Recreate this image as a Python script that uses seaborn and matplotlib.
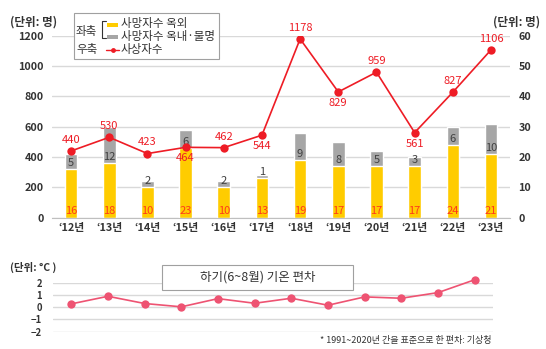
import numpy as np
import pandas as pd
import matplotlib
matplotlib.use("Agg")
import matplotlib.pyplot as plt
from matplotlib.patches import Rectangle
from matplotlib.lines import Line2D
import seaborn as sns

sns.set_style("white")
plt.rcParams['font.family'] = ['Noto Sans CJK KR', 'DejaVu Sans']

years = ["‘12년", "‘13년", "‘14년", "‘15년", "‘16년", "‘17년",
         "‘18년", "‘19년", "‘20년", "‘21년", "‘22년", "‘23년"]
deaths_outdoor = [16, 18, 10, 23, 10, 13, 19, 17, 17, 17, 24, 21]
deaths_indoor = [5, 12, 2, 6, 2, 1, 9, 8, 5, 3, 6, 10]
patients = [440, 530, 423, 464, 462, 544, 1178, 829, 959, 561, 827, 1106]
patient_label_below = [False, False, False, True, False, True, False, True, False, True, False, False]
temp_anomaly = [0.27, 0.89, 0.30, 0.03, 0.70, 0.32, 0.73, 0.16, 0.84, 0.73, 1.19, 2.24]
left_ticks = [0, 200, 400, 600, 800, 1000, 1200]
right_ticks = [0, 10, 20, 30, 40, 50, 60]
temp_ticks = [-2, -1, 0, 1, 2]

YELLOW = "#FFCC00"
GRAY = "#A6A6A6"
RED = "#EE1C25"
PINK = "#EE5372"
BARLAB = "#FF3A1A"
TXT = "#333333"
GRID = "#D9D9D9"

df = pd.DataFrame({
    "year": years,
    "pos": np.arange(len(years)),
    "outdoor": deaths_outdoor,
    "indoor": deaths_indoor,
    "patients": patients,
    "temp": temp_anomaly,
})
df["total"] = df["outdoor"] + df["indoor"]

fig = plt.figure(figsize=(5.46, 3.49), dpi=100)
ax = fig.add_axes([0.0952, 0.376, 0.839, 0.522])   # bars (right-axis scale)
ax2 = ax.twinx()                                     # line (left-axis scale)

sns.barplot(data=df, x="year", y="total", color=GRAY, width=0.33,
            saturation=1, ax=ax, order=years)
sns.barplot(data=df, x="year", y="outdoor", color=YELLOW, width=0.33,
            saturation=1, ax=ax, order=years)
ax.set_ylim(0, 60)
ax.set_xlim(-0.5, len(years) - 0.5)
ax.yaxis.tick_right()
ax.yaxis.set_label_position("right")
ax.set_yticks(right_ticks)
ax.set_xlabel("")
ax.set_ylabel("")
ax.grid(axis="y", color=GRID, linewidth=1)
ax.set_axisbelow(True)
for s in ["top", "left", "right"]:
    ax.spines[s].set_visible(False)
ax.spines["bottom"].set_color("#BFBFBF")
ax.tick_params(axis="y", length=0, pad=6, labelsize=7.8, labelcolor=TXT)
ax.tick_params(axis="x", length=0, pad=4, labelsize=7.8, labelcolor=TXT)
for lab in ax.get_yticklabels() + ax.get_xticklabels():
    lab.set_fontweight("bold")

for i, r in df.iterrows():
    ax.annotate(str(r["outdoor"]), (r["pos"], 0), xytext=(0, 1.5),
                textcoords="offset points", ha="center", va="bottom",
                fontsize=8, color=BARLAB)
    ax.annotate(str(r["indoor"]), (r["pos"], r["outdoor"]), xytext=(0, 1),
                textcoords="offset points", ha="center", va="bottom",
                fontsize=8, color="#404040")

sns.lineplot(data=df, x="pos", y="patients", color=RED, marker="o",
             markersize=6, markeredgewidth=0, linewidth=1.2, ax=ax2)
ax2.set_ylim(0, 1200)
ax2.yaxis.tick_left()
ax2.set_yticks(left_ticks)
ax2.set_xlim(-0.5, len(years) - 0.5)
ax2.set_xlabel("")
ax2.set_ylabel("")
for s in ["top", "left", "right", "bottom"]:
    ax2.spines[s].set_visible(False)
ax2.tick_params(axis="y", length=0, pad=6, labelsize=7.8, labelcolor=TXT)
for lab in ax2.get_yticklabels():
    lab.set_fontweight("bold")
for i, r in df.iterrows():
    below = patient_label_below[i]
    ax2.annotate(str(r["patients"]), (r["pos"], r["patients"]),
                 xytext=(0, -8 if below else 8), textcoords="offset points",
                 ha="center", va="center", fontsize=8, color=RED)

fig.text(10 / 546, 1 - 22 / 349, "(단위: 명)", fontsize=8.3, color=TXT,
         fontweight="bold", va="center", ha="left")
fig.text(540 / 546, 1 - 22 / 349, "(단위: 명)", fontsize=8.3, color=TXT,
         fontweight="bold", va="center", ha="right")

# legend box
fig.patches.append(Rectangle((74 / 546, 1 - 59 / 349), 145 / 546, 46 / 349,
                             transform=fig.transFigure, fill=True,
                             facecolor="white", edgecolor="#A0A0A0", lw=0.8,
                             zorder=5))
fig.text(76 / 546, 1 - 31 / 349, "좌축", fontsize=8.3, color=TXT,
         va="center", ha="left", zorder=6)
fig.text(76 / 546, 1 - 50 / 349, "우축", fontsize=8.3, color=TXT,
         va="center", ha="left", zorder=6)
fig.lines.append(Line2D([106 / 546, 102 / 546, 102 / 546, 106 / 546],
                        [1 - 21 / 349, 1 - 21 / 349, 1 - 38 / 349, 1 - 38 / 349],
                        transform=fig.transFigure, color=TXT, lw=0.8, zorder=6))
fig.patches.append(Rectangle((107 / 546, 1 - 26.5 / 349), 11 / 546, 4 / 349,
                             transform=fig.transFigure, facecolor=YELLOW,
                             edgecolor="none", zorder=6))
fig.patches.append(Rectangle((107 / 546, 1 - 38.5 / 349), 11 / 546, 4 / 349,
                             transform=fig.transFigure, facecolor=GRAY,
                             edgecolor="none", zorder=6))
fig.lines.append(Line2D([106 / 546, 119 / 546], [1 - 50 / 349, 1 - 50 / 349],
                        transform=fig.transFigure, color=RED, lw=1, zorder=6))
fig.lines.append(Line2D([112.5 / 546], [1 - 50 / 349], marker="o", markersize=3.5,
                        markeredgewidth=0, transform=fig.transFigure, color=RED,
                        zorder=7))
for yy, t in [(23.5, "사망자수 옥외"), (36.5, "사망자수 옥내·불명"), (50, "사상자수")]:
    fig.text(121 / 546, 1 - yy / 349, t, fontsize=8.3, color=TXT,
             va="center", ha="left", zorder=6)

# bottom chart
bx = fig.add_axes([0.097, 0.0496, 0.806, 0.1404])
sns.lineplot(data=df, x="pos", y="temp", color=PINK, marker="o",
             markersize=6, markeredgewidth=0, linewidth=1.2, ax=bx)
for ln in bx.get_lines():
    ln.set_clip_on(False)
bx.set_ylim(-2, 2)
bx.set_xlim(-0.5, len(years) - 0.5)
bx.set_yticks(temp_ticks)
bx.set_xticks([])
bx.set_xlabel("")
bx.set_ylabel("")
bx.grid(axis="y", color=GRID, linewidth=1)
bx.set_axisbelow(True)
for s in ["top", "left", "right", "bottom"]:
    bx.spines[s].set_visible(False)
bx.tick_params(axis="y", length=0, pad=8, labelsize=6.8, labelcolor=TXT)
for lab in bx.get_yticklabels():
    lab.set_fontweight("bold")

fig.text(10 / 546, 1 - 267 / 349, "(단위: °C )", fontsize=7.5, color=TXT,
         fontweight="bold", va="center", ha="left")
fig.patches.append(Rectangle((162 / 546, 1 - 290 / 349), 191 / 546, 25 / 349,
                             transform=fig.transFigure, facecolor="white",
                             edgecolor="#A0A0A0", lw=0.8, zorder=5))
fig.text(258 / 546, 1 - 277.5 / 349, "하기(6~8월) 기온 편차", fontsize=9,
         color=TXT, va="center", ha="center", zorder=6)
fig.text(491 / 546, 1 - 340 / 349, "* 1991~2020년 간을 표준으로 한 편차: 기상청",
         fontsize=6.5, color=TXT, va="center", ha="right")

fig.savefig("out.png", dpi=100)
